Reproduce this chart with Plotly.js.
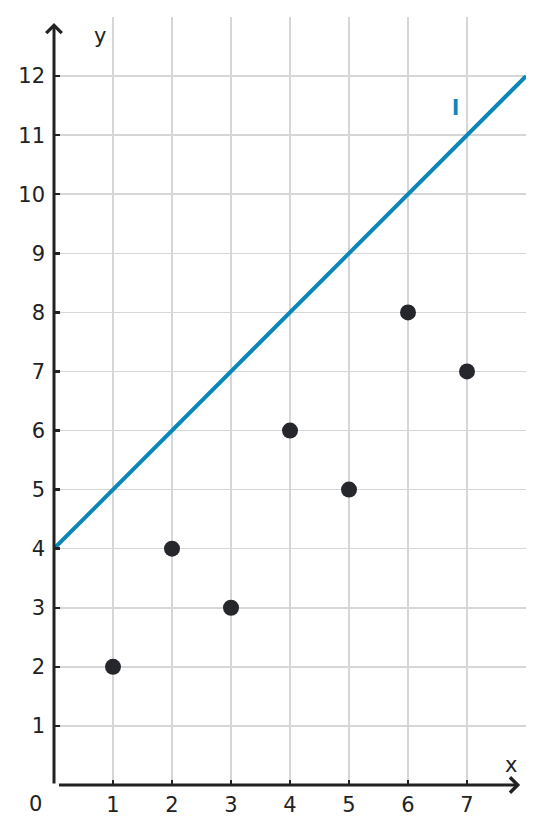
<!DOCTYPE html>
<html>
<head>
<meta charset="utf-8">
<script src="https://cdn.plot.ly/plotly-3.0.1.min.js"></script>
<style>
  html, body { margin: 0; padding: 0; background: #fff; }
  #chart { width: 544px; height: 833px; }
</style>
</head>
<body>
<div id="chart"></div>
<script>
// points and the line l: y = x + 4
const pointX = [1, 2, 3, 4, 5, 6, 7];
const pointY = [2, 4, 3, 6, 5, 8, 7];
const lineX = [0, 8];
const lineY = [4, 12];
const xTicks = [1, 2, 3, 4, 5, 6, 7];
const yTicks = [1, 2, 3, 4, 5, 6, 7, 8, 9, 10, 11, 12];

const ink = "#222222";
const blue = "#0a86b9";

const traces = [
    {
        x: lineX, y: lineY,
        type: "scatter", mode: "lines",
        line: { color: blue, width: 4 },
        hoverinfo: "skip",
    },
    {
        x: pointX, y: pointY,
        type: "scatter", mode: "markers",
        marker: { color: "#26272d", size: 16 },
        hoverinfo: "skip",
    },
];

const axisBase = {
    showgrid: true,
    gridcolor: "#d6d6d6",
    gridwidth: 1.5,
    zeroline: false,
    showline: false,
    ticks: "inside",
    tickwidth: 2.5,
    tickcolor: ink,
    tickfont: { family: "DejaVu Sans", size: 21, color: ink },
    fixedrange: true,
};

const layout = {
    width: 544, height: 833,
    margin: { l: 54, r: 18, t: 17, b: 48 },
    paper_bgcolor: "#fff",
    plot_bgcolor: "#fff",
    showlegend: false,
    xaxis: { ...axisBase, range: [0, 8], tickvals: xTicks, ticklen: 5, ticklabelstandoff: 5 },
    yaxis: { ...axisBase, range: [0, 13], tickvals: yTicks, ticklen: 6, ticklabelstandoff: 8 },
    annotations: [
        // axis arrows
        { x: 7.9, y: 0, ax: 0.06, ay: 0, xref: "x", yref: "y", axref: "x", ayref: "y",
          showarrow: true, arrowhead: 4, arrowsize: 1, arrowwidth: 3, arrowcolor: ink, text: "" },
        { x: 0, y: 12.9, ax: 0, ay: 0, xref: "x", yref: "y", axref: "x", ayref: "y",
          showarrow: true, arrowhead: 4, arrowsize: 1, arrowwidth: 3, arrowcolor: ink, text: "" },
        // labels
        { x: 0, y: 0, xref: "x", yref: "y", text: "0", showarrow: false,
          xanchor: "right", yanchor: "top", xshift: -10, yshift: -5,
          font: { family: "DejaVu Sans", size: 21, color: ink } },
        { x: 7.75, y: 0, xref: "x", yref: "y", text: "x", showarrow: false,
          xanchor: "center", yanchor: "bottom", yshift: 6,
          font: { family: "DejaVu Sans", size: 21, color: ink } },
        { x: 0.78, y: 12.68, xref: "x", yref: "y", text: "y", showarrow: false,
          xanchor: "center", yanchor: "middle",
          font: { family: "DejaVu Sans", size: 21, color: ink } },
        { x: 6.81, y: 11.46, xref: "x", yref: "y", text: "<b>l</b>", showarrow: false,
          xanchor: "center", yanchor: "middle",
          font: { family: "DejaVu Sans", size: 21, color: blue } },
    ],
};

Plotly.newPlot("chart", traces, layout, { displayModeBar: false, staticPlot: true });
</script>
</body>
</html>
